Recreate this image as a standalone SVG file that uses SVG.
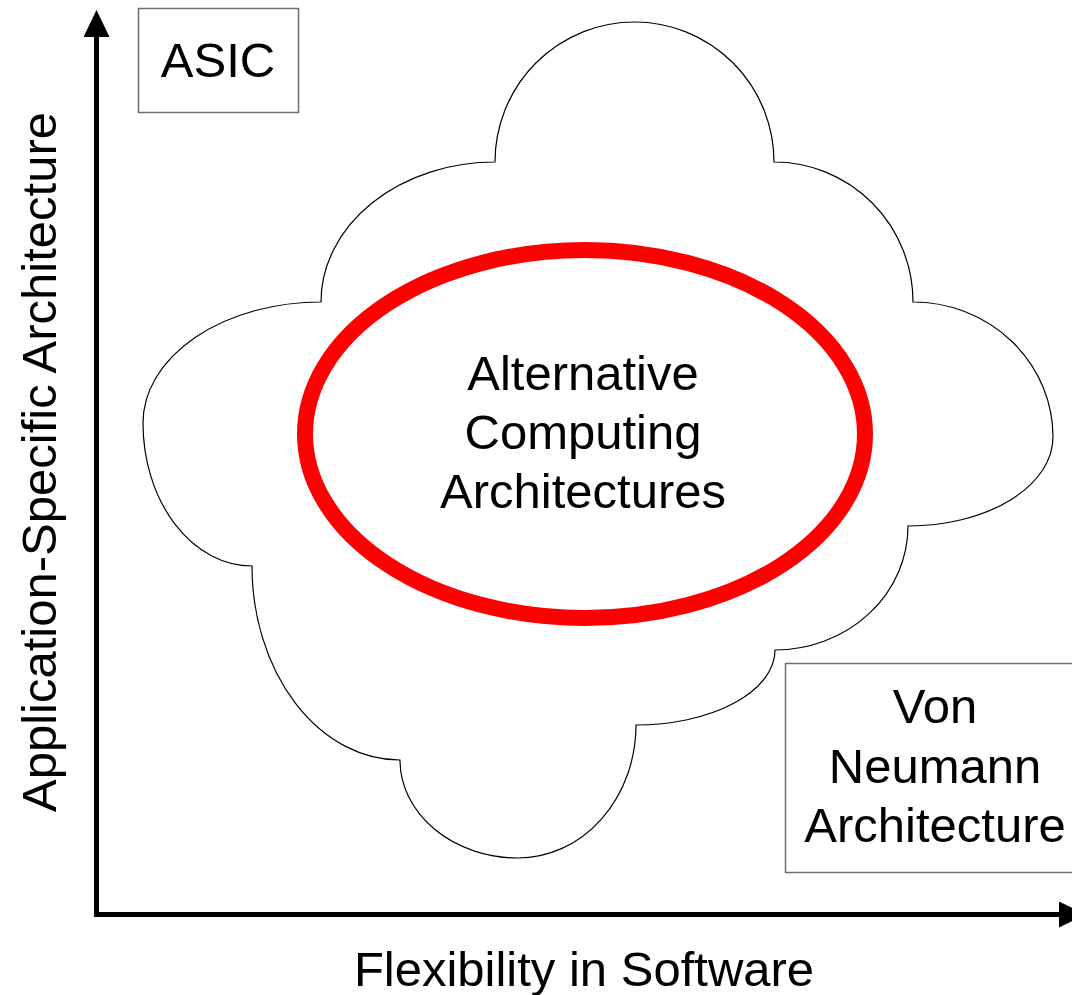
<svg xmlns="http://www.w3.org/2000/svg" width="1072" height="995" viewBox="0 0 1072 995">
  <defs>
    <style>
      .lbl { font-family: "Liberation Sans", Arial, sans-serif; font-size: 49px; fill: #000; text-anchor: middle; }
      .box { fill: #fff; stroke: #6e6e6e; stroke-width: 1.5; }
      .axis { fill: none; stroke: #000; stroke-width: 5; }
      .cloud { fill: #fff; stroke: #000; stroke-width: 1.2; stroke-linejoin: miter; }
      .ring { fill: none; stroke: #ff0000; stroke-width: 16; }
    </style>
    <marker id="arrowhead" markerUnits="userSpaceOnUse" markerWidth="27" markerHeight="26" refX="1" refY="13" orient="auto" viewBox="0 0 27 26">
      <path d="M0,0 L27,13 L0,26 z" fill="#000"/>
    </marker>
  </defs>

  <rect width="1072" height="995" fill="#fff"/>

  <!-- cloud outline -->
  <g id="cloud">
    <path class="cloud" d="M321,302
      A174,140 0 0 1 495,162
      A139.5,140 0 0 1 774,162
      A139,140 0 0 1 913,302
      A140,135 0 0 1 1053,437
      A145,89 0 0 1 908,526
      A133,124 0 0 1 775,650
      A139,75 0 0 1 636,725
      A118,133 0 0 1 518,858
      A118,98 0 0 1 400,760
      A148,194 0 0 1 252,566
      A109,143 0 0 1 143,423
      A178,121 0 0 1 321,302 Z"/>
  </g>

  <!-- central ellipse with label -->
  <g id="alternative">
    <ellipse class="ring" cx="585" cy="434" rx="280" ry="184"/>
    <text class="lbl" x="583" y="390">Alternative</text>
    <text class="lbl" x="583" y="449">Computing</text>
    <text class="lbl" x="583" y="508">Architectures</text>
  </g>

  <g id="asic">
    <rect class="box" x="138.5" y="8.5" width="160" height="104"/>
    <text class="lbl" x="218" y="77">ASIC</text>
  </g>

  <g id="vonneumann">
    <rect class="box" x="785.5" y="663.5" width="300" height="209"/>
    <text class="lbl" x="935" y="723">Von</text>
    <text class="lbl" x="935" y="783">Neumann</text>
    <text class="lbl" x="935" y="842">Architecture</text>
  </g>

  <!-- axes -->
  <g id="connectors">
    <path class="axis" d="M96.5,917 L96.5,36" marker-end="url(#arrowhead)"/>
    <path class="axis" d="M94,914.5 L1060,914.5" marker-end="url(#arrowhead)"/>
  </g>

  <g id="axis-labels">
    <text class="lbl" transform="translate(56,462) rotate(-90)">Application-Specific Architecture</text>
    <text class="lbl" x="584" y="986">Flexibility in Software</text>
  </g>
</svg>
